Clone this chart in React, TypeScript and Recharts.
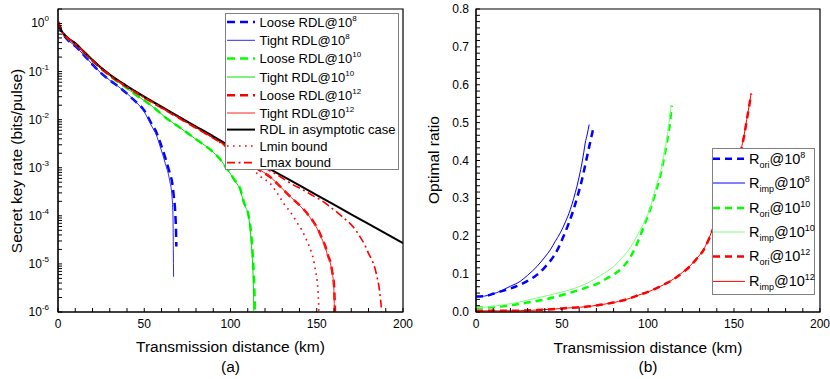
import React from 'react';
import { LineChart, Line, XAxis, YAxis, Legend, ReferenceArea } from 'recharts';

type Pt = [number, number];

// ---- (a) secret key rate (bits/pulse) vs transmission distance (km)
const rdlAsymptotic: Pt[] = [
  [0, 1.05], [2, 0.71], [5, 0.525], [10, 0.39], [15, 0.26], [20, 0.174], [25, 0.12], [30, 0.087],
  [40, 0.05], [50, 0.03], [60, 0.0186], [70, 0.0115], [80, 0.0072], [90, 0.0045], [100, 0.00275],
  [120, 0.00107], [140, 4.3e-4], [160, 1.7e-4], [180, 6.8e-5], [200, 2.7e-5],
];

const rate12Head: Pt[] = [
  [0, 1.1], [2, 0.72], [5, 0.52], [10, 0.38], [15, 0.255], [20, 0.17], [25, 0.117], [30, 0.084],
  [40, 0.048], [50, 0.029], [60, 0.0178], [70, 0.011], [80, 0.0068], [90, 0.0042],
];

const tightRdl12: Pt[] = [
  ...rate12Head,
  [100, 2.5e-3], [108, 1.62e-3], [115.4, 9.8e-4], [123, 6.5e-4], [129, 4.0e-4], [134.7, 2.5e-4],
  [140.5, 1.58e-4], [144, 1.15e-4], [148.2, 7.2e-5], [151, 4.8e-5], [153, 3.3e-5], [155, 2.2e-5],
  [156.5, 1.4e-5], [158, 1.0e-5], [159, 6.3e-6], [159.8, 3.9e-6], [160.2, 1.3e-6], [160.3, 1e-6],
];

const looseRdl12: Pt[] = [
  ...rate12Head,
  [100, 2.5e-3], [108, 1.6e-3], [115.4, 9.7e-4], [123, 6.4e-4], [129, 4.0e-4], [134.7, 2.5e-4],
  [140.5, 1.6e-4], [144, 1.17e-4], [148.2, 7.4e-5], [151, 5.0e-5], [153, 3.4e-5], [155, 2.3e-5],
  [156.5, 1.5e-5], [158, 1.05e-5], [159, 6.8e-6], [160, 3.6e-6], [160.5, 1.3e-6], [160.6, 1e-6],
];

const lminBound: Pt[] = [
  ...rate12Head,
  [100, 2.3e-3], [108, 1.35e-3], [113.4, 8.9e-4], [118, 6.3e-4], [123, 4.7e-4], [127, 3.0e-4],
  [130.8, 1.82e-4], [134, 1.3e-4], [136.6, 9.5e-5], [139, 6.8e-5], [141.4, 5.0e-5], [143.5, 3.5e-5],
  [145.3, 2.5e-5], [147, 1.7e-5], [148.2, 1.2e-5], [149.2, 7.4e-6], [150.2, 4.5e-6], [150.8, 2.5e-6],
  [151.1, 1.4e-6], [151.2, 1e-6],
];

const lmaxBound: Pt[] = [
  ...rate12Head,
  [100, 2.6e-3], [110, 1.6e-3], [120, 9.8e-4], [128.9, 6.5e-4], [135, 4.7e-4], [142.4, 3.4e-4],
  [148, 2.6e-4], [154, 1.95e-4], [158, 1.5e-4], [161.7, 1.2e-4], [165.5, 9.1e-5], [169.4, 6.9e-5],
  [172.5, 5.1e-5], [175.2, 3.6e-5], [177.8, 2.5e-5], [180, 1.66e-5], [182, 1.2e-5], [183.6, 8.5e-6],
  [184.9, 5.4e-6], [186, 3.5e-6], [186.8, 2.1e-6], [187.3, 1.4e-6], [187.6, 1e-6],
];

const rate10Head: Pt[] = [
  [0, 1.05], [2, 0.71], [5, 0.52], [10, 0.385], [15, 0.255], [20, 0.168], [25, 0.115], [30, 0.082],
  [35, 0.06], [40, 0.045], [45, 0.033], [50, 0.025], [55, 0.0185], [63, 0.0106], [70, 0.0071],
  [80, 0.0039], [90, 0.0021], [95, 0.00135], [97, 0.00105],
];

const tightRdl10: Pt[] = [
  ...rate10Head,
  [100, 7.4e-4], [102, 5.6e-4], [105.7, 3.4e-4], [107.6, 1.9e-4], [110.5, 9.5e-5], [112, 2.8e-5],
  [112.8, 1.0e-5], [113.3, 3e-6], [113.5, 1e-6],
];

const looseRdl10: Pt[] = [
  ...rate10Head,
  [100, 7.6e-4], [102, 5.8e-4], [105.7, 3.6e-4], [107.6, 2.0e-4], [110.5, 1.0e-4], [112.5, 2.6e-5],
  [113.5, 6e-6], [114, 2e-6], [114.2, 1e-6],
];

const rate8Head: Pt[] = [
  [0, 0.95], [2, 0.68], [5, 0.48], [10, 0.34], [15, 0.22], [20, 0.14], [24.5, 0.096], [30, 0.066],
  [37, 0.043], [43.8, 0.026],
];

const tightRdl8: Pt[] = [
  ...rate8Head,
  [50, 0.0145], [54.5, 0.0071], [57, 0.0048], [59.3, 0.0027], [62.2, 0.00123], [64.7, 5.5e-4],
  [66.1, 2.5e-4], [66.7, 8.1e-5], [66.85, 2.0e-5], [67, 5.4e-6],
];

const looseRdl8: Pt[] = [
  ...rate8Head,
  [50, 0.0155], [54.5, 0.0079], [57, 0.0055], [59.3, 0.0033], [62.2, 0.0016], [64.7, 7.9e-4],
  [66.1, 5.1e-4], [67, 2.8e-4], [68, 1.1e-4], [68.4, 5e-5], [68.6, 2.3e-5],
];

// ---- (b) optimal ratio vs transmission distance (km)
const rOri8: Pt[] = [
  [0, 0.041], [5, 0.042], [10, 0.048], [15, 0.055], [20, 0.062], [25.7, 0.072], [30, 0.082],
  [35.4, 0.098], [40, 0.118], [45.1, 0.147], [48, 0.17], [50.9, 0.2], [54, 0.235], [56.7, 0.27],
  [59.3, 0.31], [61.6, 0.349], [63.6, 0.39], [65.4, 0.428], [66.8, 0.457], [68, 0.481],
];
const rImp8: Pt[] = [
  [0, 0.041], [5, 0.042], [8.3, 0.046], [12, 0.051], [16, 0.059], [20, 0.068], [25.7, 0.081],
  [30, 0.097], [35.4, 0.12], [40, 0.145], [43.2, 0.164], [46, 0.186], [49, 0.209], [52, 0.238],
  [54.8, 0.27], [56.8, 0.3], [58.7, 0.332], [60.2, 0.362], [61.6, 0.393], [62.6, 0.42],
  [63.5, 0.446], [64.7, 0.47], [65.8, 0.495],
];
const rOri10: Pt[] = [
  [0, 0.011], [10, 0.013], [20, 0.018], [30, 0.025], [40, 0.033], [54.8, 0.051], [66.4, 0.068],
  [72.2, 0.078], [76.1, 0.089], [80, 0.099], [85.7, 0.12], [90, 0.147], [95.4, 0.2], [98, 0.232],
  [101.2, 0.27], [104, 0.31], [107, 0.358], [109, 0.4], [110.9, 0.445], [112.5, 0.49], [113.8, 0.545],
];
const rImp10: Pt[] = [
  [0, 0.011], [10, 0.015], [16, 0.019], [25, 0.026], [35.4, 0.037], [45, 0.047], [54.8, 0.059],
  [60, 0.067], [66.4, 0.08], [72.2, 0.096], [76.1, 0.107], [80, 0.12], [85.7, 0.147], [90, 0.172],
  [93.5, 0.2], [96.5, 0.225], [99.3, 0.252], [102, 0.285], [104.2, 0.323], [106, 0.35], [108, 0.384],
  [109.5, 0.42], [110.9, 0.455], [112.2, 0.5], [113.4, 0.543],
];
const rOri12: Pt[] = [
  [0, 0.003], [16, 0.003], [35.4, 0.005], [54.8, 0.011], [66.4, 0.015], [72.2, 0.019], [80, 0.025],
  [85.7, 0.031], [90, 0.037], [95.4, 0.046], [100, 0.053], [105, 0.063], [110, 0.074], [114.8, 0.086],
  [118.7, 0.099], [124.5, 0.121], [128, 0.139], [132.2, 0.163], [135, 0.188], [137.1, 0.211],
  [140, 0.243], [143, 0.278], [146, 0.318], [149, 0.358], [152, 0.398], [154.5, 0.435], [156, 0.468],
  [157.4, 0.506], [158.8, 0.543], [160, 0.576],
];
const rImp12: Pt[] = [
  [0, 0.003], [16, 0.003], [35.4, 0.005], [54.8, 0.011], [66.4, 0.015], [72.2, 0.019], [80, 0.025],
  [85.7, 0.031], [90, 0.037], [95.4, 0.046], [100, 0.053], [105, 0.063], [110, 0.074], [114.8, 0.087],
  [118.7, 0.1], [124.5, 0.122], [128, 0.14], [132.2, 0.164], [135, 0.19], [137.1, 0.213],
  [140, 0.245], [143, 0.28], [146, 0.32], [149, 0.36], [152, 0.4], [154.5, 0.437], [156, 0.47],
  [157.4, 0.508], [158.8, 0.545], [160, 0.578],
];

// ---- ticks (major values carry labels, the rest are minor marks)
const kmTicks = [0, 50, 100, 150, 200];
const rateTicks = [1e-6, 1e-5, 1e-4, 1e-3, 1e-2, 1e-1, 1];
const ratioTicks = [0, 0.1, 0.2, 0.3, 0.4, 0.5, 0.6, 0.7, 0.8];

const kmAll: number[] = [];
for (let k = 0; k <= 200; k += 10) kmAll.push(k);
const rateAll: number[] = [];
rateTicks.forEach((d) => {
  for (let m = 1; m <= 9; m++) if (d * m <= 2) rateAll.push(d * m);
});
const ratioAll: number[] = [];
for (let i = 0; i < 8; i++) for (let j = 0; j < 6; j++) ratioAll.push(+(i * 0.1 + (j * 0.1) / 6).toFixed(4));
ratioAll.push(0.8);

const isKmMajor = (v: number) => kmTicks.includes(v);
const isRateMajor = (v: number) => Math.abs(Math.log10(v) - Math.round(Math.log10(v))) < 1e-6;
const isRatioMajor = (v: number) => ratioTicks.some((t) => Math.abs(t - v) < 1e-6);

const toPoints = (pts: Pt[]) => pts.map(([x, y]) => ({ x, y }));

const FONT = '"Liberation Sans", Arial, sans-serif';
const TICK = -4; // inward tick marks

const seriesA = [
  { name: 'Loose RDL@10', sup: '8', data: looseRdl8, color: '#0000ff', width: 2.5, dash: '8 5' },
  { name: 'Tight RDL@10', sup: '8', data: tightRdl8, color: '#2a2aff', width: 1, dash: undefined },
  { name: 'Loose RDL@10', sup: '10', data: looseRdl10, color: '#00ff00', width: 2.5, dash: '8 5' },
  { name: 'Tight RDL@10', sup: '10', data: tightRdl10, color: '#00e400', width: 1, dash: undefined },
  { name: 'Loose RDL@10', sup: '12', data: looseRdl12, color: '#ff0000', width: 2.5, dash: '8 5' },
  { name: 'Tight RDL@10', sup: '12', data: tightRdl12, color: '#ff2020', width: 1, dash: undefined },
  { name: 'RDL in asymptotic case', sup: '', data: rdlAsymptotic, color: '#000000', width: 2, dash: undefined },
  { name: 'Lmin bound', sup: '', data: lminBound, color: '#ff0000', width: 1.6, dash: '1.6 4.4' },
  { name: 'Lmax bound', sup: '', data: lmaxBound, color: '#ff0000', width: 1.6, dash: '8 3.5 2 3.5' },
];

const seriesB = [
  { sub: 'ori', sup: '8', data: rOri8, color: '#0000ff', width: 2.5, dash: '7 5' },
  { sub: 'imp', sup: '8', data: rImp8, color: '#0000ff', width: 1, dash: undefined },
  { sub: 'ori', sup: '10', data: rOri10, color: '#00ff00', width: 2.5, dash: '7 5' },
  { sub: 'imp', sup: '10', data: rImp10, color: '#80ff80', width: 1, dash: undefined },
  { sub: 'ori', sup: '12', data: rOri12, color: '#ff0000', width: 2.5, dash: '7 5' },
  { sub: 'imp', sup: '12', data: rImp12, color: '#ff0000', width: 1, dash: undefined },
];

const KmTick = (props: any) => {
  const { x, y, payload } = props;
  if (!isKmMajor(payload.value)) return <g />;
  return (
    <text x={x} y={y + 9} textAnchor="middle" fontSize={12} fill="#000">{payload.value}</text>
  );
};

const LogTick = (props: any) => {
  const { x, y, payload } = props;
  const v = payload.value;
  if (!isRateMajor(v)) return <g />;
  return (
    <text x={x} y={y + 4} textAnchor="end" fontSize={12} fill="#000">
      <tspan>10</tspan>
      <tspan dy={-6} fontSize={8}>{Math.round(Math.log10(v))}</tspan>
    </text>
  );
};

const RatioTick = (props: any) => {
  const { x, y, payload } = props;
  const v = payload.value;
  if (!isRatioMajor(v)) return <g />;
  return (
    <text x={x} y={y + 4} textAnchor="end" fontSize={12} fill="#000">{v.toFixed(1)}</text>
  );
};

const LegendA = () => {
  const rowsY = [9, 27.3, 45.6, 64, 82.3, 100, 116.6, 133, 149.6];
  return (
    <svg width={174} height={157} style={{ display: 'block', fontFamily: FONT }}>
      <rect x={0.5} y={0.5} width={173} height={156} fill="#fff" stroke="#808080" />
      {seriesA.map((s, i) => (
        <g key={i}>
          <line x1={2} x2={30} y1={rowsY[i]} y2={rowsY[i]} stroke={s.color} strokeWidth={s.width}
            strokeDasharray={s.dash} />
          <text x={34.5} y={rowsY[i] + 4.6} fontSize={13} fill="#000">
            <tspan>{s.name}</tspan>
            {s.sup && <tspan dy={-6} fontSize={8}>{s.sup}</tspan>}
          </text>
        </g>
      ))}
    </svg>
  );
};

const LegendB = () => {
  const rowsY = [10.7, 35, 60, 84, 108.4, 133.4];
  return (
    <svg width={103} height={147} style={{ display: 'block', fontFamily: FONT }}>
      <rect x={0.5} y={0.5} width={102} height={146} fill="#fff" stroke="#808080" />
      {seriesB.map((s, i) => (
        <g key={i}>
          <line x1={1} x2={33} y1={rowsY[i]} y2={rowsY[i]} stroke={s.color} strokeWidth={s.width}
            strokeDasharray={s.dash} />
          <text x={37} y={rowsY[i] + 5} fontSize={14.5} fill="#000">
            <tspan>R</tspan>
            <tspan dy={4} fontSize={9}>{s.sub}</tspan>
            <tspan dy={-4}>@10</tspan>
            <tspan dy={-6} fontSize={9}>{s.sup}</tspan>
          </text>
        </g>
      ))}
    </svg>
  );
};

const PanelA = () => (
  <LineChart width={415} height={379} margin={{ top: 9, right: 12, bottom: 0, left: 0 }}>
    <XAxis xAxisId="km" type="number" dataKey="x" domain={[0, 200]} ticks={kmAll} interval={0}
      allowDataOverflow height={67} tickLine={{ stroke: '#000' }} tickSize={TICK} tickMargin={11}
      stroke="#000" tick={<KmTick />} />
    <YAxis yAxisId="rate" scale="log" dataKey="y" domain={[1e-6, 2]} ticks={rateAll} interval={0}
      allowDataOverflow width={58} tickLine={{ stroke: '#000' }} tickSize={TICK} tickMargin={13}
      stroke="#000" tick={<LogTick />} />
    <ReferenceArea xAxisId="km" yAxisId="rate" x1={0} x2={200} y1={1e-6} y2={2} fill="none"
      stroke="#000" strokeWidth={1.2} ifOverflow="visible" />
    {seriesA.map((s, i) => (
      <Line key={i} xAxisId="km" yAxisId="rate" data={toPoints(s.data)} dataKey="y" type="monotone"
        stroke={s.color} strokeWidth={s.width} strokeDasharray={s.dash} dot={false}
        isAnimationActive={false} />
    ))}
    <Legend layout="vertical" align="center" verticalAlign="middle" content={() => <LegendA />}
      wrapperStyle={{ left: 225, top: 12.5, width: 174, height: 157 }} />
  </LineChart>
);

const PanelB = () => (
  <LineChart width={415} height={379} margin={{ top: 9, right: 10, bottom: 0, left: 0 }}>
    <XAxis xAxisId="km" type="number" dataKey="x" domain={[0, 200]} ticks={kmAll} interval={0}
      allowDataOverflow height={67} tickLine={{ stroke: '#000' }} tickSize={TICK} tickMargin={11}
      stroke="#000" tick={<KmTick />} />
    <YAxis yAxisId="ratio" type="number" dataKey="y" domain={[0, 0.8]} ticks={ratioAll} interval={0}
      allowDataOverflow width={61} tickLine={{ stroke: '#000' }} tickSize={TICK} tickMargin={11}
      stroke="#000" tick={<RatioTick />} />
    <ReferenceArea xAxisId="km" yAxisId="ratio" x1={0} x2={200} y1={0} y2={0.8} fill="none"
      stroke="#000" strokeWidth={1.2} ifOverflow="visible" />
    {seriesB.map((s, i) => (
      <Line key={i} xAxisId="km" yAxisId="ratio" data={toPoints(s.data)} dataKey="y" type="monotone"
        stroke={s.color} strokeWidth={s.width} strokeDasharray={s.dash} dot={false}
        isAnimationActive={false} />
    ))}
    <Legend layout="vertical" align="center" verticalAlign="middle" content={() => <LegendB />}
      wrapperStyle={{ left: 297, top: 148, width: 103, height: 147 }} />
  </LineChart>
);

export default function App() {
  return (
    <div style={{ position: 'absolute', left: 0, top: 0, width: 830, height: 379, background: '#fff',
      fontFamily: FONT, overflow: 'hidden' }}>
      <div style={{ position: 'absolute', left: 0, top: 0 }}>
        <PanelA />
      </div>
      <div style={{ position: 'absolute', left: 415, top: 0 }}>
        <PanelB />
      </div>
      <svg width={830} height={379} style={{ position: 'absolute', left: 0, top: 0, pointerEvents: 'none' }}>
        <g fontSize={15.5} fill="#000" textAnchor="middle">
          <text transform="translate(22,161) rotate(-90)">Secret key rate (bits/pulse)</text>
          <text x={230.5} y={352}>Transmission distance (km)</text>
          <text x={230.5} y={372}>(a)</text>
          <text transform="translate(439,160) rotate(-90)">Optimal ratio</text>
          <text x={648} y={353}>Transmission distance (km)</text>
          <text x={648} y={372}>(b)</text>
        </g>
      </svg>
    </div>
  );
}
